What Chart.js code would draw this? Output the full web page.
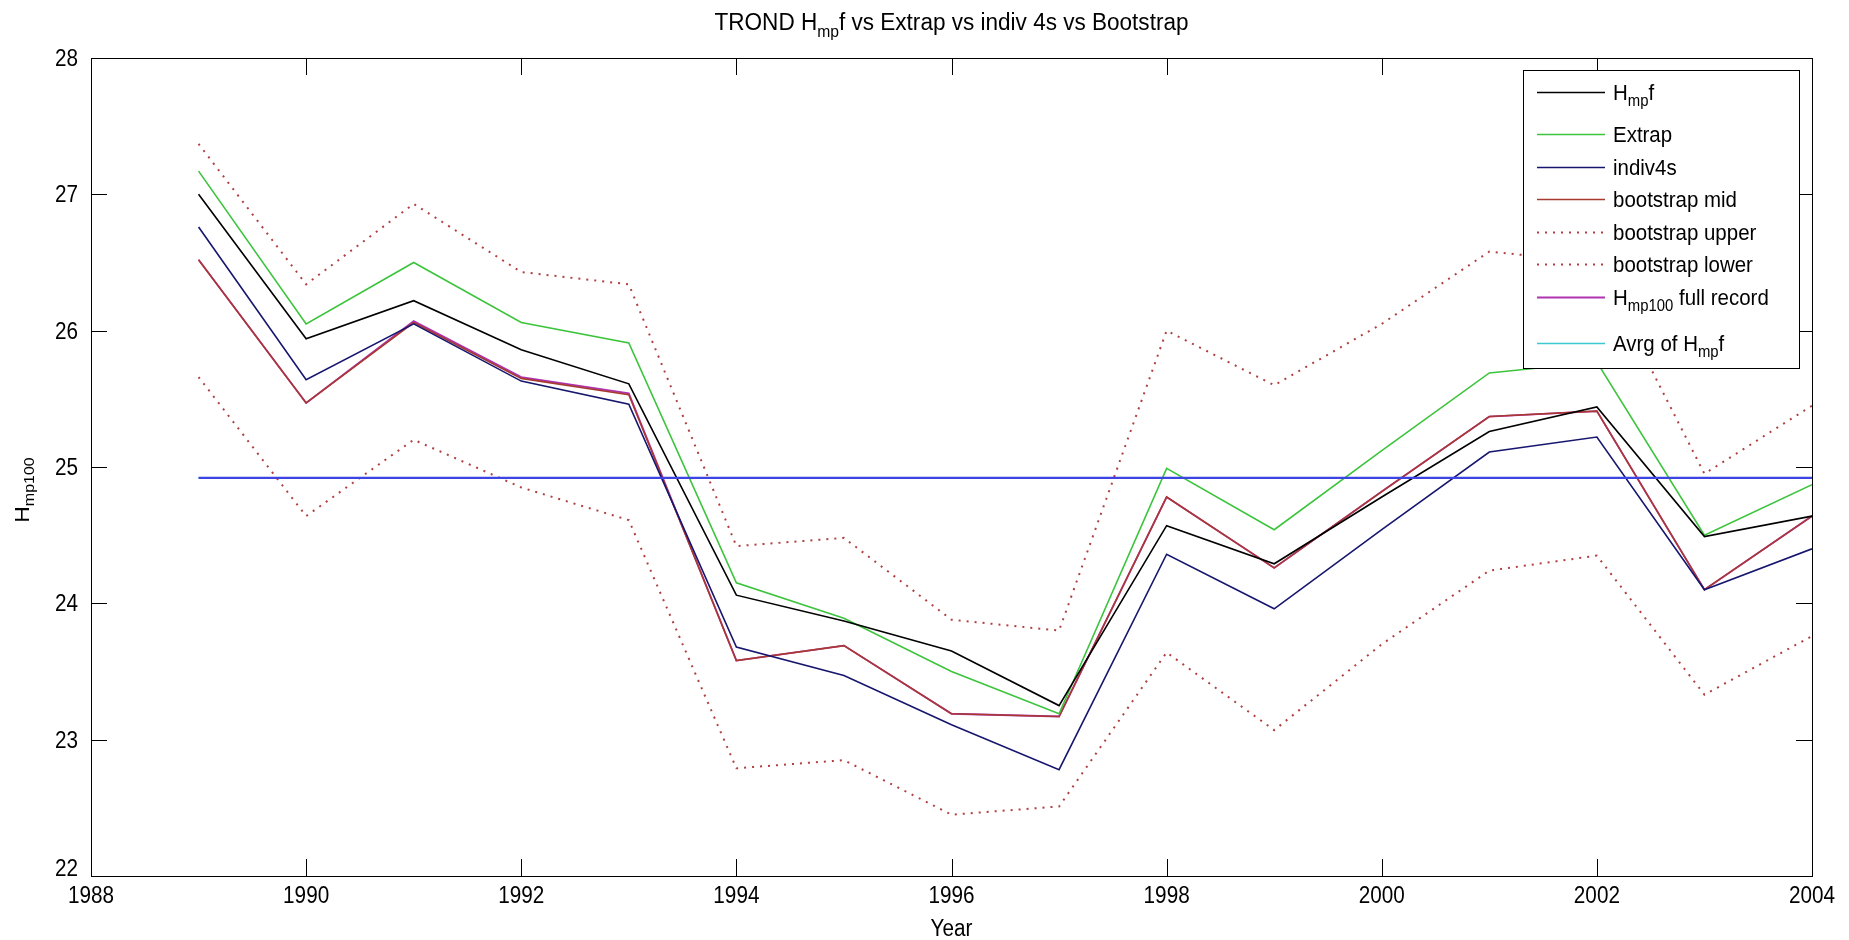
<!DOCTYPE html>
<html>
<head>
<meta charset="utf-8">
<script src="https://cdn.jsdelivr.net/npm/chart.js@4.4.1/dist/chart.umd.min.js"></script>
<style>
  html, body { margin: 0; padding: 0; background: #ffffff; overflow: hidden; }
  #wrap { width: 1849px; height: 940px; }
</style>
</head>
<body>
<div id="wrap"><canvas id="c" width="1849" height="940"></canvas></div>
<script>
// ---- data ----
const years = [1989, 1990, 1991, 1992, 1993, 1994, 1995, 1996, 1997, 1998, 1999, 2000, 2001, 2002, 2003, 2004];
const hmpf       = [27.00, 25.94, 26.22, 25.86, 25.61, 24.06, 23.87, 23.65, 23.25, 24.57, 24.29, 24.78, 25.26, 25.44, 24.49, 24.64];
const extrap     = [27.17, 26.05, 26.50, 26.06, 25.91, 24.15, 23.89, 23.50, 23.19, 24.99, 24.54, 25.12, 25.69, 25.77, 24.50, 24.87];
const indiv4s    = [26.76, 25.64, 26.05, 25.63, 25.46, 23.68, 23.47, 23.11, 22.78, 24.36, 23.96, 24.54, 25.11, 25.22, 24.10, 24.40];
const bootMid    = [26.52, 25.47, 26.06, 25.65, 25.53, 23.58, 23.69, 23.19, 23.17, 24.78, 24.26, 24.82, 25.37, 25.41, 24.10, 24.64];
const bootUpper  = [27.37, 26.34, 26.93, 26.43, 26.34, 24.42, 24.48, 23.88, 23.80, 26.00, 25.60, 26.05, 26.58, 26.50, 24.95, 25.45];
const bootLower  = [25.66, 24.64, 25.20, 24.85, 24.61, 22.79, 22.85, 22.45, 22.51, 23.64, 23.07, 23.70, 24.24, 24.35, 23.33, 23.76];
const fullRecord = [26.52, 25.47, 26.07, 25.66, 25.54, 23.58, 23.69, 23.19, 23.17, 24.78, 24.26, 24.82, 25.37, 25.41, 24.10, 24.64];
const avgLevel = 24.92;
const avgSpan = [1989, 2004];

const seriesLabels = ['H_{mp}f', 'Extrap', 'indiv4s', 'bootstrap mid', 'bootstrap upper',
                      'bootstrap lower', 'H_{mp100} full record', 'Avrg of H_{mp}f'];
const xTicks = [1988, 1990, 1992, 1994, 1996, 1998, 2000, 2002, 2004];
const yTicks = [22, 23, 24, 25, 26, 27, 28];
const titleText = 'TROND H_{mp}f vs Extrap vs indiv 4s vs Bootstrap';
const xTitle = 'Year';
const yTitle = 'H_{mp100}';

// ---- helpers ----
const FONT = '"Liberation Sans", Arial, Helvetica, sans-serif';
const pts = (vals) => years.map((y, i) => ({ x: y, y: vals[i] }));

function parseRich(s) {
  const out = []; const re = /_\{([^}]*)\}/g; let last = 0, m;
  while ((m = re.exec(s))) {
    if (m.index > last) out.push({ t: s.slice(last, m.index), sub: false });
    out.push({ t: m[1], sub: true });
    last = re.lastIndex;
  }
  if (last < s.length) out.push({ t: s.slice(last), sub: false });
  return out;
}

// draws text with TeX-like subscripts; (x, y) is the baseline anchor
function drawRich(ctx, s, x, y, o) {
  const size = o.size, subSize = o.subSize || Math.round(size * 0.72);
  const sx = o.sx || 1, drop = o.drop != null ? o.drop : size * 0.3;
  const segs = parseRich(s);
  ctx.save();
  ctx.translate(x, y);
  ctx.scale(sx, 1);
  if (o.rot) ctx.rotate(o.rot);
  let w = 0;
  for (const g of segs) { ctx.font = (g.sub ? subSize : size) + 'px ' + FONT; w += ctx.measureText(g.t).width; }
  let cx = o.align === 'center' ? -w / 2 : o.align === 'right' ? -w : 0;
  ctx.textAlign = 'left';
  ctx.textBaseline = 'alphabetic';
  ctx.fillStyle = o.color || '#000';
  for (const g of segs) {
    ctx.font = (g.sub ? subSize : size) + 'px ' + FONT;
    ctx.fillText(g.t, cx, g.sub ? drop : 0);
    cx += ctx.measureText(g.t).width;
  }
  ctx.restore();
}

// ---- axes frame, inward ticks, labels and legend box ----
const figurePlugin = {
  id: 'figure',
  beforeDraw(chart) {
    const ctx = chart.ctx;
    ctx.save();
    ctx.fillStyle = '#ffffff';
    ctx.fillRect(0, 0, chart.width, chart.height);
    ctx.restore();
  },
  afterDatasetsDraw(chart) {
    const ctx = chart.ctx, a = chart.chartArea;
    const xs = chart.scales.x, ys = chart.scales.y;
    const SX = 0.9;
    ctx.save();
    ctx.strokeStyle = '#000';
    ctx.lineWidth = 1;
    // box
    ctx.strokeRect(Math.round(a.left) + 0.5, Math.round(a.top) + 0.5,
                   Math.round(a.right - a.left), Math.round(a.bottom - a.top));
    // ticks pointing inward on all four sides
    ctx.beginPath();
    for (const t of xTicks) {
      const px = Math.round(xs.getPixelForValue(t)) + 0.5;
      ctx.moveTo(px, a.bottom); ctx.lineTo(px, a.bottom - 17);
      ctx.moveTo(px, a.top); ctx.lineTo(px, a.top + 17);
    }
    for (const t of yTicks) {
      const py = Math.round(ys.getPixelForValue(t)) + 0.5;
      ctx.moveTo(a.left, py); ctx.lineTo(a.left + 16, py);
      ctx.moveTo(a.right, py); ctx.lineTo(a.right - 16, py);
    }
    ctx.stroke();
    ctx.restore();

    // tick labels
    for (const t of xTicks) {
      drawRich(ctx, String(t), xs.getPixelForValue(t), a.bottom + 27, { size: 23, sx: SX, align: 'center' });
    }
    for (const t of yTicks) {
      const lift = t === yTicks[0] ? 8 : 0;
      drawRich(ctx, String(t), a.left - 13, ys.getPixelForValue(t) + 8 - lift, { size: 23, sx: SX, align: 'right' });
    }
    // titles
    const cxm = (a.left + a.right) / 2;
    drawRich(ctx, titleText, cxm, 30, { size: 23, subSize: 16, sx: 0.98, align: 'center', drop: 7 });
    drawRich(ctx, xTitle, cxm, a.bottom + 60, { size: 23, sx: SX, align: 'center' });
    drawRich(ctx, yTitle, 29, 490, { size: 23, subSize: 16, sx: SX, align: 'center', rot: -Math.PI / 2, drop: 6 });

    // legend
    const L = { left: 1523, top: 70, right: 1799, bottom: 368 };
    const rowOffsets = [22, 64, 97, 129, 162, 194, 227, 273];
    ctx.save();
    ctx.fillStyle = '#ffffff';
    ctx.fillRect(L.left, L.top, L.right - L.left, L.bottom - L.top);
    ctx.strokeStyle = '#000';
    ctx.lineWidth = 1;
    ctx.strokeRect(L.left + 0.5, L.top + 0.5, L.right - L.left, L.bottom - L.top);
    ctx.restore();
    const legendSets = chart.data.datasets.filter(d => d.inLegend);
    legendSets.forEach((d, i) => {
      const y = L.top + rowOffsets[i];
      ctx.save();
      ctx.strokeStyle = d.borderColor;
      ctx.lineWidth = d.borderWidth;
      ctx.setLineDash(d.borderDash || []);
      ctx.beginPath();
      ctx.moveTo(L.left + 14, y + 0.5);
      ctx.lineTo(L.left + 82, y + 0.5);
      ctx.stroke();
      ctx.restore();
      drawRich(ctx, d.label, L.left + 90, y + 8, { size: 22, subSize: 16, sx: 0.93, drop: 6 });
    });
  }
};

const dotted = [2, 6];
const datasets = [
  { label: 'average', data: avgSpan.map(x => ({ x, y: avgLevel })), borderColor: '#3c44e4', borderWidth: 2.2, order: 0, inLegend: false },
  { label: seriesLabels[0], data: pts(hmpf),      borderColor: '#000000', borderWidth: 1.6, order: 1, inLegend: true },
  { label: seriesLabels[1], data: pts(extrap),    borderColor: '#3cc43c', borderWidth: 1.6, order: 2, inLegend: true },
  { label: seriesLabels[2], data: pts(indiv4s),   borderColor: '#16166e', borderWidth: 1.6, order: 3, inLegend: true },
  { label: seriesLabels[3], data: pts(bootMid),   borderColor: '#a83832', borderWidth: 1.6, order: 4, inLegend: true },
  { label: seriesLabels[4], data: pts(bootUpper), borderColor: '#b04040', borderWidth: 2, borderDash: dotted, order: 5, inLegend: true },
  { label: seriesLabels[5], data: pts(bootLower), borderColor: '#b04040', borderWidth: 2, borderDash: dotted, order: 6, inLegend: true },
  { label: seriesLabels[6], data: pts(fullRecord), borderColor: '#b033b0', borderWidth: 1.8, order: 7, inLegend: true },
  { label: seriesLabels[7], data: avgSpan.map(x => ({ x, y: avgLevel })), borderColor: '#3cc8d0', borderWidth: 1.6, order: 8, inLegend: true }
];

new Chart(document.getElementById('c'), {
  type: 'line',
  data: { datasets },
  options: {
    responsive: false,
    animation: false,
    devicePixelRatio: 1,
    layout: { padding: { left: 91, top: 58, right: 37, bottom: 64 } },
    elements: { point: { radius: 0 }, line: { tension: 0, fill: false } },
    plugins: { legend: { display: false }, tooltip: { enabled: false }, title: { display: false } },
    scales: {
      x: {
        type: 'linear', min: 1988, max: 2004,
        ticks: { display: false }, grid: { display: false, drawTicks: false }, border: { display: false },
        afterFit(s) { s.height = 0; }
      },
      y: {
        type: 'linear', min: 22, max: 28,
        ticks: { display: false }, grid: { display: false, drawTicks: false }, border: { display: false },
        afterFit(s) { s.width = 0; }
      }
    }
  },
  plugins: [figurePlugin]
});
</script>
</body>
</html>
